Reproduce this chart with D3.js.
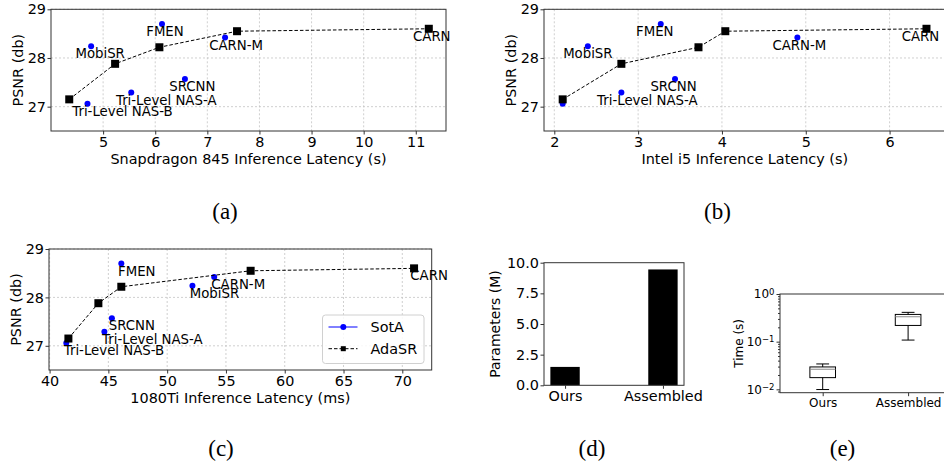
<!DOCTYPE html>
<html>
<head>
<meta charset="utf-8">
<script src="https://cdn.jsdelivr.net/npm/d3@7"></script>
<style>
	body { margin: 0; background: #fff; }
	svg text { font-family: 'DejaVu Sans', sans-serif; fill: #000; }
	.grid line { stroke: #c4c4c4; stroke-dasharray: 2,2; stroke-width: 0.8; }
	.caption { font-family: 'Liberation Serif', serif !important; font-size: 23px; }
</style>
</head>
<body>
<svg id="fig" width="944" height="462"></svg>
<script>
// --- data ---
var models = ['FMEN', 'MobiSR', 'CARN-M', 'CARN', 'SRCNN', 'Tri-Level NAS-A', 'Tri-Level NAS-B']
var sotaPsnr = [28.70, 28.24, 28.42, 28.60, 27.57, 27.29, 27.06]
var sotaSnapdragon = [6.13, 4.77, 7.34, 11.25, 6.57, 5.54, 4.70]
var sotaI5 = [3.27, 2.40, 4.90, 6.44, 3.44, 2.80, 2.10]
var sota1080 = [46.1, 52.15, 54.0, 71.0, 45.3, 44.66, 41.42]

var adaPsnr = [27.15, 27.88, 28.22, 28.55, 28.60]
var adaSnapdragon = [4.35, 5.23, 6.08, 7.57, 11.25]
var adaI5 = [2.10, 2.80, 3.72, 4.04, 6.44]
var ada1080 = [41.6, 44.15, 46.1, 57.1, 71.0]

var methods = ['Ours', 'Assembled']
var paramsM = [1.5, 9.45]
// whisker low, q1, median, q3, whisker high
var timeOurs = [0.0099, 0.0176, 0.0264, 0.0295, 0.0341]
var timeAssembled = [0.108, 0.219, 0.333, 0.373, 0.412]

var psnrTicks = [27, 28, 29]
var snapTicks = [5, 6, 7, 8, 9, 10, 11]
var i5Ticks = [2, 3, 4, 5, 6]
var gpuTicks = [40, 45, 50, 55, 60, 65, 70]
var paramTicks = [0, 2.5, 5, 7.5, 10]

// label nudges (px) per panel, in models order; null = no label
var labelDxA = [3, 9, 11, 3, 7.5, 35, 35]
var labelDxB = [-6, 0, 2, -6, -1.5, 26, null]
var labelDxC = [15.5, 22, 24, 15, 20, 48, 47.7]

var svg = d3.select('#fig')
var FS = 14.4

function frame(g, b) {
	g.append('rect')
		.attr('x', b.left).attr('y', b.top)
		.attr('width', b.right - b.left).attr('height', b.bottom - b.top)
		.attr('fill', 'none').attr('stroke', '#333').attr('stroke-width', 1)
}

function styleAxis(a, size) {
	a.select('.domain').remove()
	a.selectAll('text').style('font-size', size + 'px').attr('fill', '#000')
	a.selectAll('line').attr('stroke', '#333')
}

function makeScatter(b, xDomain, xTicks, xTitle, sotaX, adaX, dxs) {
	var g = svg.append('g')
	var x = d3.scaleLinear().domain(xDomain).range([b.left, b.right])
	var y = d3.scaleLinear().domain([26.5, 29]).range([b.bottom, b.top])

	var grid = g.append('g').attr('class', 'grid')
	grid.selectAll('.gx').data(xTicks).enter().append('line')
		.attr('x1', x).attr('x2', x).attr('y1', b.top).attr('y2', b.bottom)
	grid.selectAll('.gy').data(psnrTicks).enter().append('line')
		.attr('y1', y).attr('y2', y).attr('x1', b.left).attr('x2', b.right)

	var ax = g.append('g').attr('transform', 'translate(0,' + b.bottom + ')')
		.call(d3.axisBottom(x).tickValues(xTicks).tickFormat(d3.format('d')).tickSize(3.5).tickPadding(2))
	styleAxis(ax, FS)
	var ay = g.append('g').attr('transform', 'translate(' + b.left + ',0)')
		.call(d3.axisLeft(y).tickValues(psnrTicks).tickFormat(d3.format('d')).tickSize(3.5).tickPadding(1.5))
	styleAxis(ay, FS)

	frame(g, b)

	g.append('text')
		.attr('x', (b.left + b.right) / 2).attr('y', b.bottom + 32.5)
		.attr('text-anchor', 'middle').style('font-size', FS + 'px')
		.text(xTitle)
	g.append('text')
		.attr('transform', 'translate(' + (b.left - 33.5) + ',' + ((b.top + b.bottom) / 2) + ') rotate(-90)')
		.attr('text-anchor', 'middle').attr('dy', '0.35em').style('font-size', FS + 'px')
		.text('PSNR (db)')

	var sota = models.map(function(m, i) { return {name: m, x: sotaX[i], y: sotaPsnr[i], dx: dxs[i]} })
	var ada = adaX.map(function(v, i) { return {x: v, y: adaPsnr[i]} })

	g.selectAll('.sota').data(sota).enter().append('circle')
		.attr('cx', function(d) { return x(d.x) })
		.attr('cy', function(d) { return y(d.y) })
		.attr('r', 3).attr('fill', '#0000ff')

	var line = d3.line()
		.x(function(d) { return x(d.x) })
		.y(function(d) { return y(d.y) })
	g.append('path').datum(ada).attr('d', line)
		.attr('fill', 'none').attr('stroke', '#000').attr('stroke-width', 1)
		.attr('stroke-dasharray', '3.5,2')
	g.selectAll('.ada').data(ada).enter().append('rect')
		.attr('x', function(d) { return x(d.x) - 4 })
		.attr('y', function(d) { return y(d.y) - 4 })
		.attr('width', 8).attr('height', 8).attr('fill', '#000')

	g.selectAll('.lbl').data(sota.filter(function(d) { return d.dx !== null }))
		.enter().append('text')
		.attr('x', function(d) { return x(d.x) + d.dx })
		.attr('y', function(d) { return y(d.y) + 12 })
		.attr('text-anchor', 'middle').style('font-size', '13.3px')
		.text(function(d) { return d.name })
	return g
}

// (a)
makeScatter({left: 51, right: 446, top: 9.3, bottom: 131}, [4.0, 11.58], snapTicks,
	'Snapdragon 845 Inference Latency (s)', sotaSnapdragon, adaSnapdragon, labelDxA)
// (b)
makeScatter({left: 544, right: 945.5, top: 9.3, bottom: 131}, [1.877, 6.667], i5Ticks,
	'Intel i5 Inference Latency (s)', sotaI5, adaI5, labelDxB)
// (c)
var gc = makeScatter({left: 49, right: 431.7, top: 249, bottom: 370}, [39.95, 72.5], gpuTicks,
	'1080Ti Inference Latency (ms)', sota1080, ada1080, labelDxC)

// legend in (c)
var leg = gc.append('g').attr('transform', 'translate(322.5,315)')
leg.append('rect').attr('width', 101.5).attr('height', 48.5).attr('rx', 3)
	.attr('fill', '#fff').attr('fill-opacity', 0.85).attr('stroke', '#d0d0d0')
leg.append('line').attr('x1', 6).attr('x2', 35).attr('y1', 12).attr('y2', 12)
	.attr('stroke', '#0000ff').attr('stroke-width', 1)
leg.append('circle').attr('cx', 20.8).attr('cy', 12).attr('r', 3).attr('fill', '#0000ff')
leg.append('text').attr('x', 48).attr('y', 12).attr('dy', '0.35em')
	.style('font-size', FS + 'px').text('SotA')
leg.append('line').attr('x1', 6).attr('x2', 35).attr('y1', 33.7).attr('y2', 33.7)
	.attr('stroke', '#000').attr('stroke-dasharray', '3.5,2')
leg.append('rect').attr('x', 18.3).attr('y', 31.2).attr('width', 5).attr('height', 5).attr('fill', '#000')
leg.append('text').attr('x', 48).attr('y', 33.7).attr('dy', '0.35em')
	.style('font-size', FS + 'px').text('AdaSR')

// (d) parameters bar chart
var bd = {left: 544, right: 684, top: 262.7, bottom: 385.3}
var gd = svg.append('g')
var xd = d3.scaleLinear().domain([-0.215, 1.215]).range([bd.left, bd.right])
var yd = d3.scaleLinear().domain([0, 10]).range([bd.bottom, bd.top])
gd.selectAll('.bar').data(paramsM).enter().append('rect')
	.attr('x', function(d, i) { return xd(i - 0.15) })
	.attr('width', xd(0.15) - xd(-0.15))
	.attr('y', function(d) { return yd(d) })
	.attr('height', function(d) { return yd(0) - yd(d) })
	.attr('fill', '#000')
var axd = gd.append('g').attr('transform', 'translate(0,' + bd.bottom + ')')
	.call(d3.axisBottom(xd).tickValues([0, 1]).tickFormat(function(d) { return methods[d] })
		.tickSize(3.5).tickPadding(2))
styleAxis(axd, FS)
var ayd = gd.append('g').attr('transform', 'translate(' + bd.left + ',0)')
	.call(d3.axisLeft(yd).tickValues(paramTicks).tickFormat(d3.format('.1f')).tickSize(3.5).tickPadding(1.5))
styleAxis(ayd, FS)
frame(gd, bd)
gd.append('text')
	.attr('transform', 'translate(495,' + ((bd.top + bd.bottom) / 2) + ') rotate(-90)')
	.attr('text-anchor', 'middle').attr('dy', '0.35em').style('font-size', '14px')
	.text('Parameters (M)')

// (e) time box plot, log scale
var be = {left: 780, right: 950.8, top: 294, bottom: 392.7}
var ge = svg.append('g')
var xe = d3.scaleLinear().domain([0.5, 2.5]).range([be.left, be.right])
var ye = d3.scaleLog().domain([0.0085, 1]).range([be.bottom, be.top])
var boxes = [timeOurs, timeAssembled]
boxes.forEach(function(s, i) {
	var cx = xe(i + 1)
	var hw = (xe(0.15) - xe(0))
	var cw = hw / 2
	ge.append('line').attr('x1', cx).attr('x2', cx).attr('y1', ye(s[0])).attr('y2', ye(s[1]))
		.attr('stroke', '#000')
	ge.append('line').attr('x1', cx).attr('x2', cx).attr('y1', ye(s[3])).attr('y2', ye(s[4]))
		.attr('stroke', '#000')
	ge.append('line').attr('x1', cx - cw).attr('x2', cx + cw).attr('y1', ye(s[0])).attr('y2', ye(s[0]))
		.attr('stroke', '#000')
	ge.append('line').attr('x1', cx - cw).attr('x2', cx + cw).attr('y1', ye(s[4])).attr('y2', ye(s[4]))
		.attr('stroke', '#000')
	ge.append('rect').attr('x', cx - hw).attr('width', 2 * hw)
		.attr('y', ye(s[3])).attr('height', ye(s[1]) - ye(s[3]))
		.attr('fill', 'none').attr('stroke', '#000')
	ge.append('line').attr('x1', cx - hw).attr('x2', cx + hw).attr('y1', ye(s[2])).attr('y2', ye(s[2]))
		.attr('stroke', '#8a8a8a')
})
var axe = ge.append('g').attr('transform', 'translate(0,' + be.bottom + ')')
	.call(d3.axisBottom(xe).tickValues([1, 2]).tickFormat(function(d) { return methods[d - 1] })
		.tickSize(3.5).tickPadding(2))
styleAxis(axe, 12)
var minor = []
;[-3, -2, -1].forEach(function(p) {
	for (var k = 2; k <= 9; k++) {
		var v = k * Math.pow(10, p)
		if (v >= 0.0085 && v <= 1) minor.push(v)
	}
})
var aym = ge.append('g').attr('transform', 'translate(' + be.left + ',0)')
	.call(d3.axisLeft(ye).tickValues(minor).tickFormat('').tickSize(2))
styleAxis(aym, 12)
var aye = ge.append('g').attr('transform', 'translate(' + be.left + ',0)')
	.call(d3.axisLeft(ye).tickValues([0.01, 0.1, 1]).tickSize(3.5).tickPadding(2))
styleAxis(aye, 12)
aye.selectAll('text').each(function(d) {
	var t = d3.select(this).text('')
	t.append('tspan').text('10')
	t.append('tspan').attr('dy', '-0.45em').style('font-size', '8.5px')
		.text(Math.round(Math.log10(d)) === 0 ? '0' : '\u2212' + Math.abs(Math.round(Math.log10(d))))
})
frame(ge, be)
ge.append('text')
	.attr('transform', 'translate(739,' + ((be.top + be.bottom) / 2) + ') rotate(-90)')
	.attr('text-anchor', 'middle').attr('dy', '0.35em').style('font-size', '12px')
	.text('Time (s)')

// captions
var captions = [['(a)', 225, 219], ['(b)', 717.5, 219], ['(c)', 221, 456], ['(d)', 592, 456], ['(e)', 842.5, 456]]
svg.selectAll('.caption').data(captions).enter().append('text')
	.attr('class', 'caption')
	.attr('x', function(d) { return d[1] })
	.attr('y', function(d) { return d[2] })
	.attr('text-anchor', 'middle')
	.text(function(d) { return d[0] })
</script>
</body>
</html>
